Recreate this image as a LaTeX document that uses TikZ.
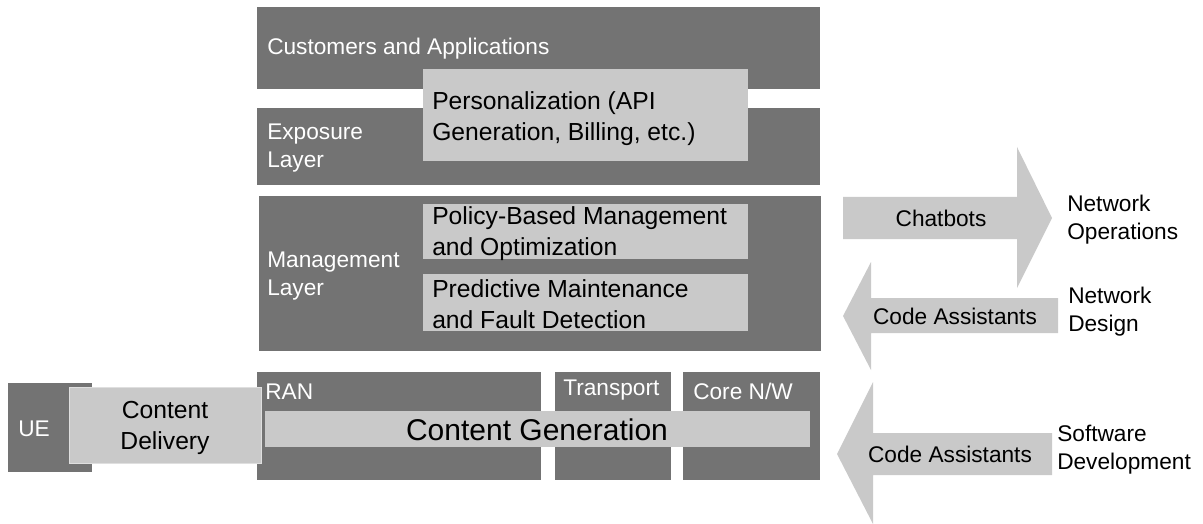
\documentclass[tikz,border=0pt]{standalone}
\usepackage{fontspec}
\setmainfont{Liberation Sans}
\usepackage{xcolor}
\usepackage{tikz}

\definecolor{boxdark}{RGB}{115,115,115}
\definecolor{boxlight}{RGB}{201,201,201}

\tikzset{
  darktext/.style={text=white, font=\fontsize{17}{21}\selectfont, align=left, inner sep=0pt, anchor=west},
  lighttext/.style={text=black, font=\fontsize{18.5}{23.25}\selectfont, align=left, inner sep=0pt, anchor=west},
  gentext/.style={text=black, font=\fontsize{22.5}{27}\selectfont, inner sep=0pt},
  sidetext/.style={text=black, font=\fontsize{17}{21}\selectfont, align=left, inner sep=0pt, anchor=west}
}

\begin{document}
\begin{tikzpicture}[x=0.75pt,y=0.75pt,yscale=-1,xscale=1]
\useasboundingbox (0,0) rectangle (1203,524);

%Shape: Rectangle [Customers]
\fill[boxdark] (257,7) rectangle (820,89);
%Shape: Rectangle [Exposure]
\fill[boxdark] (257,108) rectangle (820,185);
%Shape: Rectangle [Management]
\fill[boxdark] (259,196) rectangle (821,351);
%Shape: Rectangle [RAN]
\fill[boxdark] (257,372) rectangle (541,480);
%Shape: Rectangle [Transport]
\fill[boxdark] (555,372) rectangle (671,480);
%Shape: Rectangle [Core]
\fill[boxdark] (683,372) rectangle (820,480);
%Shape: Rectangle [UE]
\fill[boxdark] (8,383) rectangle (92,472);

%Shape: Rectangle [Personalization]
\fill[boxlight] (423,69) rectangle (748,161);
%Shape: Rectangle [Policy]
\fill[boxlight] (423,204) rectangle (748,259);
%Shape: Rectangle [Predictive]
\fill[boxlight] (423,274) rectangle (748,331);
%Shape: Rectangle [Delivery]
\draw[boxlight!60!white, fill=boxlight] (69,387) rectangle (261,463);
%Shape: Rectangle [Generation]
\fill[boxlight] (265,411) rectangle (810,447);

%Shape: Right Arrow
\fill[boxlight] (843,197) -- (1017,197) -- (1017,147) -- (1052,218) -- (1017,288) -- (1017,239) -- (843,239) -- cycle;
%Shape: Left Arrow
\fill[boxlight] (1058,298) -- (871,298) -- (871,262) -- (843,316) -- (871,370) -- (871,333) -- (1058,333) -- cycle;
%Shape: Left Arrow
\fill[boxlight] (1052,433) -- (873,433) -- (873,382) -- (837,454) -- (873,524) -- (873,475) -- (1052,475) -- cycle;

% layer names
\node[darktext] (cust) at (267,49) {Customers and Applications};
\node[darktext] (expo) at (267,148) {Exposure\\Layer};
\node[darktext] (mgmt) at (267,276) {Management\\Layer};
\node[darktext] (ran) at (265,392) {RAN};
\node[darktext] (transport) at (563,390) {Transport};
\node[darktext] (core) at (693,391) {Core N/W};
\node[darktext] (ue) at (18,429) {UE};

% functions
\node[lighttext] (pers) at (432,119) {Personalization (API\\Generation, Billing, etc.)};
\node[lighttext] (policy) at (432,234) {Policy-Based Management\\and Optimization};
\node[lighttext] (predict) at (432,304) {Predictive Maintenance\\and Fault Detection};
\node[lighttext, align=center, anchor=center] (delivery) at (165,428) {Content\\Delivery};
\node[gentext] (generation) at (537,430) {Content Generation};

% arrows and targets
\node[sidetext, anchor=center] (chat) at (941,218) {Chatbots};
\node[sidetext, anchor=center] (code1) at (955,316) {Code Assistants};
\node[sidetext, anchor=center] (code2) at (950,454) {Code Assistants};
\node[sidetext] (netops) at (1067,220) {Network\\Operations};
\node[sidetext] (netdesign) at (1068,312) {Network\\Design};
\node[sidetext] (swdev) at (1057,450) {Software\\Development};
\end{tikzpicture}
\end{document}
